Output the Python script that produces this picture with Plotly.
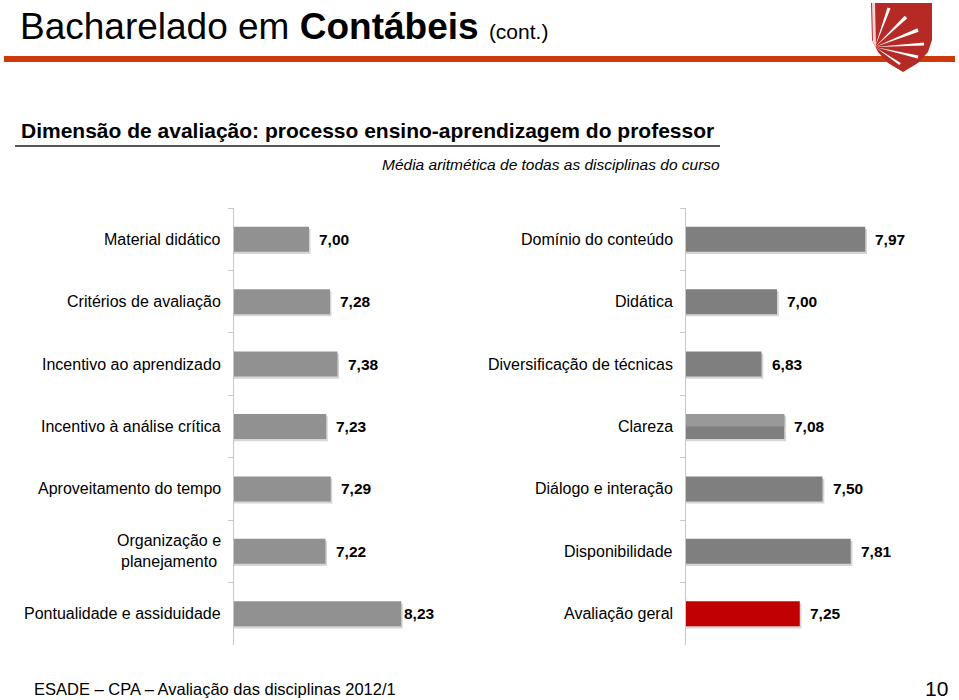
import plotly.graph_objects as go

W, H = 959, 700

# ---------------- data ----------------
left_categories = ["Material didático", "Critérios de avaliação", "Incentivo ao aprendizado",
                   "Incentivo à análise crítica", "Aproveitamento do tempo",
                   "Organização e<br>planejamento", "Pontualidade e assiduidade"]
left_values = [7.00, 7.28, 7.38, 7.23, 7.29, 7.22, 8.23]
left_labels = ["7,00", "7,28", "7,38", "7,23", "7,29", "7,22", "8,23"]

right_categories = ["Domínio do conteúdo", "Didática", "Diversificação de técnicas",
                    "Clareza", "Diálogo e interação", "Disponibilidade", "Avaliação geral"]
right_values = [7.97, 7.00, 6.83, 7.08, 7.50, 7.81, 7.25]
right_labels = ["7,97", "7,00", "6,83", "7,08", "7,50", "7,81", "7,25"]

FONT = "Liberation Sans, Arial, sans-serif"


def px(x, y):
    return x / W, 1 - y / H


def path(points):
    s = ""
    for i, (x, y) in enumerate(points):
        a, b = px(x, y)
        s += ("M" if i == 0 else "L") + f"{a:.5f},{b:.5f} "
    return s + "Z"


fig = go.Figure()

# soft drop shadows under the bars
for vals, xa, ya in [(left_values, "x", "y"), (right_values, "x2", "y2")]:
    fig.add_trace(go.Bar(x=[v + 0.02 for v in vals],
                         y=left_categories if xa == "x" else right_categories,
                         orientation="h", marker=dict(color="#d6d6d6", line=dict(width=0)),
                         width=0.4, offset=-0.165, xaxis=xa, yaxis=ya, hoverinfo="skip"))

# left chart
fig.add_trace(go.Bar(x=left_values, y=left_categories, orientation="h",
                     marker=dict(color="#919191", line=dict(width=0)), width=0.4, offset=-0.2,
                     xaxis="x", yaxis="y", hoverinfo="skip"))
# right chart
right_colors = ["#7f7f7f"] * (len(right_values) - 1) + ["#c00000"]
fig.add_trace(go.Bar(x=right_values, y=right_categories, orientation="h",
                     marker=dict(color=right_colors, line=dict(width=0)), width=0.4, offset=-0.2,
                     xaxis="x2", yaxis="y2", hoverinfo="skip"))
# lighter upper half on "Clareza"
ci = right_categories.index("Clareza")
fig.add_trace(go.Bar(x=[right_values[ci]], y=[right_categories[ci]], orientation="h",
                     marker=dict(color="#999999", line=dict(width=0)), width=0.2, offset=-0.2,
                     xaxis="x2", yaxis="y2", hoverinfo="skip"))

ydom = [1 - 645 / H, 1 - 208 / H]
axis_common = dict(showgrid=False, zeroline=False, showticklabels=False)
fig.update_layout(
    width=W, height=H, margin=dict(l=0, r=0, t=0, b=0),
    paper_bgcolor="white", plot_bgcolor="white", showlegend=False,
    barmode="overlay",
    font=dict(family=FONT, color="black"),
    xaxis=dict(domain=[234 / W, 459 / W], range=[6, 9], visible=False),
    xaxis2=dict(domain=[686 / W, 959 / W], range=[6, 9], visible=False),
    yaxis=dict(domain=ydom, anchor="x", autorange="reversed", type="category",
               showline=True, linecolor="#c8c8c8", linewidth=1,
               ticks="outside", ticklen=5, tickcolor="#c8c8c8", tickson="boundaries",
               **axis_common),
    yaxis2=dict(domain=ydom, anchor="x2", autorange="reversed", type="category",
                showline=True, linecolor="#c8c8c8", linewidth=1,
                ticks="outside", ticklen=5, tickcolor="#c8c8c8", tickson="boundaries",
                **axis_common),
)

ann = []
for cats, vals, labs, xr, yr in [(left_categories, left_values, left_labels, "x", "y"),
                                 (right_categories, right_values, right_labels, "x2", "y2")]:
    for c, v, l in zip(cats, vals, labs):
        shift = 1 if (xr == "x" and v == max(vals)) else 8
        ann.append(dict(x=v, y=c, xref=xr, yref=yr, text=f"<b>{l}</b>", showarrow=False,
                        xanchor="left", xshift=shift, font=dict(size=15.5, family=FONT)))
        ann.append(dict(x=0, y=c, xref=f"{xr} domain", yref=yr, text=c, showarrow=False,
                        xanchor="right", xshift=-11, align="center",
                        font=dict(size=16, family=FONT)))

# slide texts
ann += [
    dict(x=18 / W, y=1 - 26 / H, xref="paper", yref="paper", xanchor="left", yanchor="middle",
         text="Bacharelado em <b>Contábeis</b> <span style='font-size:21px'>(cont.)</span>",
         showarrow=False, font=dict(size=37, family=FONT)),
    dict(x=19 / W, y=1 - 130 / H, xref="paper", yref="paper", xanchor="left", yanchor="middle",
         text="<b>Dimensão de avaliação: processo ensino-aprendizagem do professor</b>",
         showarrow=False, font=dict(size=21, family=FONT)),
    dict(x=722 / W, y=1 - 164 / H, xref="paper", yref="paper", xanchor="right", yanchor="middle",
         text="<i>Média aritmética de todas as disciplinas do curso</i>",
         showarrow=False, font=dict(size=15.5, family=FONT)),
    dict(x=32 / W, y=1 - 689 / H, xref="paper", yref="paper", xanchor="left", yanchor="middle",
         text="ESADE – CPA – Avaliação das disciplinas 2012/1",
         showarrow=False, font=dict(size=16.5, family=FONT)),
    dict(x=950 / W, y=1 - 688 / H, xref="paper", yref="paper", xanchor="right", yanchor="middle",
         text="10", showarrow=False, font=dict(size=21, family=FONT)),
]
fig.update_layout(annotations=ann)

# slide shapes
shapes = []
x0, y0 = px(4, 56)
x1, y1 = px(955, 62)
shapes.append(dict(type="rect", xref="paper", yref="paper", x0=x0, y0=y0, x1=x1, y1=y1,
                   fillcolor="#cc3a0c", line=dict(width=0), layer="above"))
x0, y0 = px(15, 145)
x1, y1 = px(720, 147)
shapes.append(dict(type="rect", xref="paper", yref="paper", x0=x0, y0=y0, x1=x1, y1=y1,
                   fillcolor="#555555", line=dict(width=0), layer="above"))
# shield logo
shield = [(871, 3), (932, 3), (932, 40), (928, 52), (918, 63), (903, 72),
          (888, 63), (878, 52), (872, 40)]
shapes.append(dict(type="path", xref="paper", yref="paper", path=path(shield),
                   fillcolor="#b52a24", line=dict(width=0), layer="above"))
fx, fy = 875, 47
for ex, ey, w in [(889, 8, 1.6), (906, 17, 1.8), (918, 30, 1.8), (924, 44, 1.6),
                  (918, 57, 1.5), (900, 64, 1.3)]:
    dx, dy = ex - fx, ey - fy
    n = (dx * dx + dy * dy) ** 0.5
    nx, ny = -dy / n * w, dx / n * w
    shapes.append(dict(type="path", xref="paper", yref="paper",
                       path=path([(fx, fy), (ex + nx, ey + ny), (ex - nx, ey - ny)]),
                       fillcolor="white", line=dict(width=0), layer="above"))
shapes.append(dict(type="path", xref="paper", yref="paper",
                   path=path([(872, 3), (875, 3), (876, 47), (873, 42)]),
                   fillcolor="#f2d6d4", line=dict(width=0), layer="above"))
fig.update_layout(shapes=shapes)

fig.write_html("out.html", config={"displayModeBar": False},
               post_script="document.body.style.margin='0';document.body.style.overflow='hidden';")
